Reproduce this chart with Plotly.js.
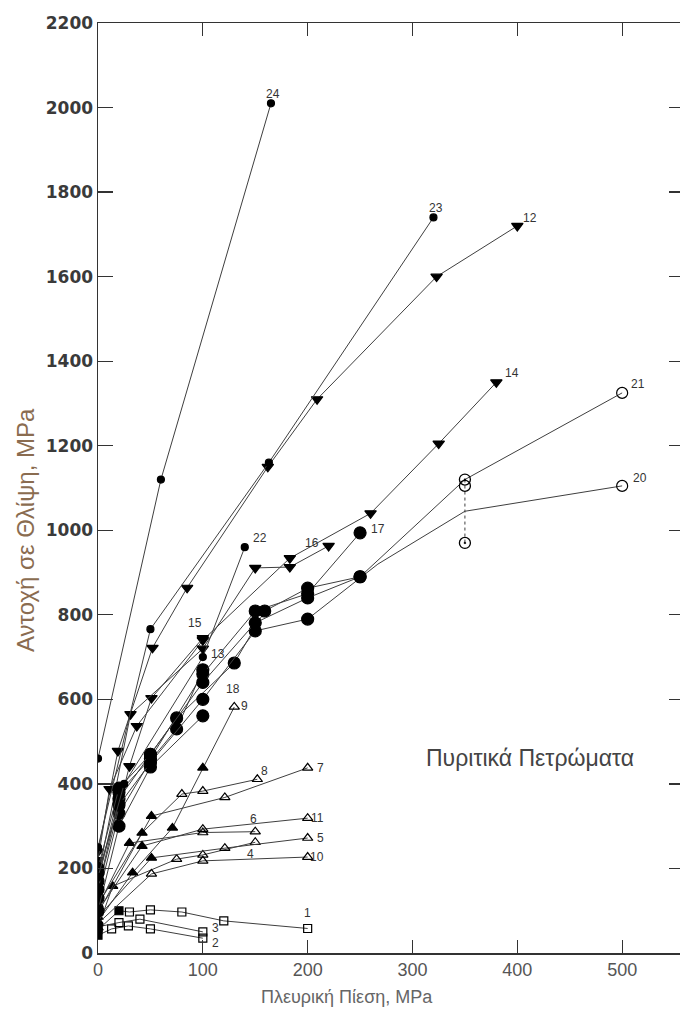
<!DOCTYPE html>
<html>
<head>
<meta charset="utf-8">
<script src="https://cdn.plot.ly/plotly-3.0.1.min.js"></script>
<style>html,body{margin:0;padding:0;overflow:hidden;background:#fff}</style>
</head>
<body>
<div id="chart" style="width:684px;height:1011px"></div>
<script>
// ---------- DATA ----------
const s1_x = [0, 20, 30, 50, 80, 120, 200];
const s1_y = [55, 100, 97, 102, 97, 76, 58];
const s2_x = [0, 13, 29, 50, 100];
const s2_y = [42, 57, 64, 57, 35];
const s3_x = [0, 20, 40, 100];
const s3_y = [62, 72, 80, 50];
const s4_x = [0, 14, 75, 100, 150];
const s4_y = [60, 158, 222, 232, 262];
const s5_x = [0, 51, 121, 200];
const s5_y = [85, 225, 248, 272];
const s6_x = [0, 30, 100, 150];
const s6_y = [110, 260, 285, 287];
const s7_x = [0, 51, 121, 200];
const s7_y = [95, 324, 368, 438];
const s8_x = [0, 42, 80, 100, 152];
const s8_y = [115, 284, 376, 383, 411];
const s9_x = [0, 33, 71, 100, 130];
const s9_y = [75, 190, 296, 438, 582];
const s10_x = [0, 51, 100, 200];
const s10_y = [70, 187, 218, 227];
const s11_x = [0, 42, 100, 200];
const s11_y = [100, 253, 293, 319];
const s12_x = [0, 19, 52, 85, 162, 209, 323, 400];
const s12_y = [240, 478, 722, 864, 1150, 1310, 1600, 1720];
const s13_x = [0, 20, 50, 75, 100];
const s13_y = [130, 330, 455, 530, 670];
const s14_x = [0, 11, 37, 100, 183, 260, 325, 380];
const s14_y = [220, 388, 537, 740, 934, 1040, 1205, 1350];
const s15_x = [0, 30, 51, 100];
const s15_y = [150, 442, 603, 745];
const s16_x = [0, 31, 100, 150, 183, 220];
const s16_y = [180, 565, 720, 911, 913, 963];
const s17_x = [0, 20, 50, 100, 150, 200, 250];
const s17_y = [170, 380, 460, 660, 809, 850, 994];
const s18_x = [0, 20, 50, 100];
const s18_y = [100, 300, 440, 561];
const s19_x = [0, 20, 50, 75, 130, 159, 200, 250];
const s19_y = [150, 365, 470, 556, 686, 809, 863, 890];
const s20_x = [0, 20, 50, 100, 150, 200, 267, 350, 500];
const s20_y = [190, 350, 450, 600, 762, 790, 920, 1045, 1105];
const s21_x = [0, 20, 50, 100, 150, 200, 250, 350, 500];
const s21_y = [200, 390, 470, 640, 781, 840, 890, 1120, 1325];
const s22_x = [0, 25, 100, 140];
const s22_y = [180, 400, 700, 960];
const s23_x = [0, 50, 163, 320];
const s23_y = [250, 766, 1160, 1740];
const s24_x = [0, 60, 165];
const s24_y = [460, 1120, 2010];
// spread of results at 350 MPa (series 20/21)
const range_x = [350, 350, 350];
const range_y = [1120, 1105, 970];

// series number labels (text, and where they sit in data units)
const labelText = ['24','23','12','14','21','20','17','16','22','15','13','18','9','8','7','6','11','5','4','10','1','3','2'];
const labelX    = [167, 322, 412, 395, 515, 517, 267, 204, 155, 93, 114, 129, 140, 159, 212, 148, 209, 212, 145, 209, 200, 112, 112];
const labelY    = [2032, 1763, 1739, 1372, 1346, 1124, 1003, 970, 982, 781, 707, 624, 584, 430, 438, 317, 319, 272, 234, 227, 95, 59, 24];

const xTickVals = [0, 100, 200, 300, 400, 500];
const yTickVals = [0, 200, 400, 600, 800, 1000, 1200, 1400, 1600, 1800, 2000, 2200];

const xTitle = 'Πλευρική Πίεση, MPa';
const yTitle = 'Αντοχή σε Θλίψη, MPa';
const noteText = 'Πυριτικά Πετρώματα';

// ---------- STYLE ----------
const series = [
  ['1', s1_x, s1_y], ['2', s2_x, s2_y], ['3', s3_x, s3_y], ['4', s4_x, s4_y],
  ['5', s5_x, s5_y], ['6', s6_x, s6_y], ['7', s7_x, s7_y], ['8', s8_x, s8_y],
  ['9', s9_x, s9_y], ['10', s10_x, s10_y], ['11', s11_x, s11_y], ['12', s12_x, s12_y],
  ['13', s13_x, s13_y], ['14', s14_x, s14_y], ['15', s15_x, s15_y], ['16', s16_x, s16_y],
  ['17', s17_x, s17_y], ['18', s18_x, s18_y], ['19', s19_x, s19_y], ['20', s20_x, s20_y],
  ['21', s21_x, s21_y], ['22', s22_x, s22_y], ['23', s23_x, s23_y], ['24', s24_x, s24_y]
];
const SQ = {sym:'square', size:8};
const TU = {sym:'triangle-up', size:9};
const TD = {sym:'triangle-down', size:10};
const CB = {sym:'circle', size:12};
const CS = {sym:'circle', size:7};
const style = {
  '1': {...SQ, openFrom:2}, '2': {...SQ, openFrom:1}, '3': {...SQ, openFrom:1},
  '4': {...TU, openFrom:2}, '5': {...TU, openFrom:2}, '6': {...TU, openFrom:2},
  '7': {...TU, openFrom:2}, '8': {...TU, openFrom:2}, '9': {...TU, openFrom:4},
  '10': {...TU, openFrom:1}, '11': {...TU, openFrom:2},
  '12': TD, '14': TD, '15': TD, '16': TD,
  '13': CB, '17': CB, '18': CB, '19': CB,
  '20': {...CB, openFrom:8, hide:[6,7]}, '21': {...CB, openFrom:7, hide:[7]},
  '22': CS, '23': CS, '24': CS
};

const lineColor = '#3f3f3f';
const markColor = '#000000';
const traces = series.map(([id, xs, ys]) => {
  const st = style[id];
  const openFrom = st.openFrom === undefined ? 1e9 : st.openFrom;
  const hide = st.hide || [];
  return {
    type: 'scatter', mode: 'lines+markers', name: id, x: xs, y: ys,
    line: {color: lineColor, width: 1},
    marker: {
      symbol: xs.map((_, i) => i >= openFrom ? st.sym + '-open' : st.sym),
      size: xs.map((_, i) => hide.includes(i) ? 0 : (i >= openFrom && st.sym === 'circle' ? st.size - 1 : st.size)),
      color: markColor, opacity: 1,
      line: {color: markColor, width: 1.2}
    },
    hoverinfo: 'x+y+name'
  };
});
traces.push({
  type: 'scatter', mode: 'lines+markers', name: 'εύρος', x: range_x, y: range_y,
  line: {color: lineColor, width: 1, dash: 'dot'},
  marker: {symbol: ['circle-open-dot', 'circle-open', 'circle-open-dot'], size: 11, color: markColor, line: {color: markColor, width: 1.3}}
});

const annotations = labelText.map((t, i) => ({
  x: labelX[i], y: labelY[i], text: t, showarrow: false,
  font: {family: 'Liberation Sans, Arial, sans-serif', size: 12, color: '#333'}
}));
annotations.push({
  x: 412, y: 461, text: noteText, showarrow: false,
  font: {family: 'Liberation Sans, Arial, sans-serif', size: 23, color: '#444'}
});
annotations.push({
  xref: 'paper', yref: 'paper', x: -0.1246, y: 0.4548, text: yTitle, textangle: -90,
  showarrow: false, xanchor: 'center', yanchor: 'middle',
  font: {family: 'Liberation Sans, Arial, sans-serif', size: 24, color: '#8a6c50'}
});
annotations.push({
  xref: 'paper', yref: 'paper', x: 0.425, y: -0.0473, text: xTitle,
  showarrow: false, xanchor: 'center', yanchor: 'middle',
  font: {family: 'Liberation Sans, Arial, sans-serif', size: 18, color: '#666'}
});

const layout = {
  width: 684, height: 1011,
  margin: {l: 98, r: 0, t: 23, b: 58},
  paper_bgcolor: '#fff', plot_bgcolor: '#fff',
  showlegend: false,
  xaxis: {
    range: [0, 559], tickvals: xTickVals, ticks: 'inside', ticklen: 13, tickwidth: 1.3,
    tickcolor: '#333', showline: true, linecolor: '#333', linewidth: 1.5, mirror: 'ticks',
    showgrid: false, zeroline: false,
    tickfont: {family: 'Liberation Sans, Arial, sans-serif', size: 18, color: '#555'}
  },
  yaxis: {
    range: [0, 2200], tickvals: yTickVals, ticks: 'inside', ticklen: 15, tickwidth: 1.3,
    tickcolor: '#333', showline: true, linecolor: '#333', linewidth: 1.5, mirror: 'ticks',
    showgrid: false, zeroline: false,
    tickfont: {family: 'DejaVu Sans, sans-serif', size: 17, color: '#3a3a3a', weight: 'bold'}
  },
  annotations: annotations
};

Plotly.newPlot('chart', traces, layout, {displayModeBar: false, staticPlot: true});
</script>
</body>
</html>
